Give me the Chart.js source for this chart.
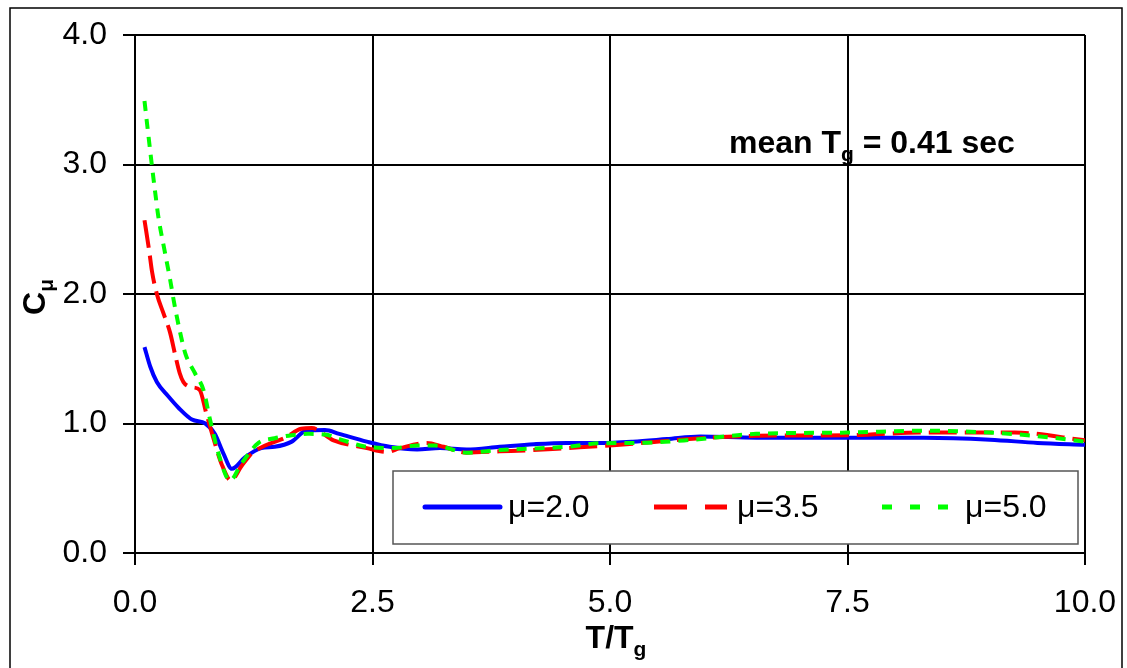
<!DOCTYPE html>
<html>
<head>
<meta charset="utf-8">
<script src="https://cdn.jsdelivr.net/npm/chart.js@4.4.0/dist/chart.umd.min.js"></script>
<style>
  html, body { margin: 0; padding: 0; background: #fff; }
  #wrap { width: 1127px; height: 668px; position: relative; }
</style>
</head>
<body>
<div id="wrap"><canvas id="myChart" width="1127" height="668"></canvas></div>
<script>
// values (T/Tg vs C_mu)
const t_mu20 = [0.10, 0.16, 0.23, 0.35, 0.46, 0.60, 0.74, 0.84, 0.93, 1.02, 1.16, 1.33, 1.47, 1.65, 1.79, 2.00, 2.15, 2.44, 2.68, 2.97, 3.21, 3.49, 3.84, 4.20, 4.54, 4.89, 5.24, 5.60, 5.95, 6.54, 7.00, 7.50, 8.30, 9.00, 9.50, 10.0];
const c_mu20 = [1.59, 1.44, 1.32, 1.21, 1.12, 1.03, 1.00, 0.92, 0.77, 0.65, 0.74, 0.81, 0.82, 0.86, 0.94, 0.95, 0.92, 0.86, 0.82, 0.80, 0.81, 0.80, 0.82, 0.84, 0.85, 0.85, 0.86, 0.88, 0.90, 0.89, 0.89, 0.89, 0.89, 0.875, 0.85, 0.835];

const t_mu35 = [0.10, 0.15, 0.18, 0.23, 0.30, 0.37, 0.42, 0.47, 0.51, 0.60, 0.68, 0.75, 0.82, 0.91, 1.01, 1.12, 1.23, 1.37, 1.58, 1.75, 1.86, 2.09, 2.44, 2.65, 2.79, 3.07, 3.25, 3.49, 3.84, 4.19, 4.54, 5.07, 5.95, 6.54, 7.50, 8.30, 9.26, 10.0];
const c_mu35 = [2.57, 2.33, 2.17, 2.00, 1.85, 1.70, 1.54, 1.39, 1.32, 1.28, 1.26, 1.08, 0.90, 0.69, 0.56, 0.67, 0.77, 0.83, 0.89, 0.96, 0.965, 0.87, 0.81, 0.78, 0.81, 0.85, 0.82, 0.775, 0.785, 0.795, 0.81, 0.834, 0.886, 0.905, 0.91, 0.93, 0.93, 0.87];

const t_mu50 = [0.10, 0.175, 0.21, 0.245, 0.31, 0.37, 0.41, 0.47, 0.53, 0.63, 0.72, 0.79, 0.89, 1.00, 1.12, 1.30, 1.47, 1.65, 1.82, 2.00, 2.15, 2.44, 2.72, 2.97, 3.16, 3.49, 3.84, 4.54, 4.89, 5.30, 5.84, 6.54, 7.49, 8.30, 9.00, 9.53, 10.0];
const c_mu50 = [3.49, 3.01, 2.80, 2.60, 2.34, 2.11, 1.94, 1.72, 1.54, 1.39, 1.26, 1.03, 0.74, 0.56, 0.69, 0.85, 0.886, 0.91, 0.92, 0.915, 0.88, 0.82, 0.81, 0.83, 0.83, 0.775, 0.795, 0.82, 0.847, 0.85, 0.873, 0.92, 0.93, 0.944, 0.93, 0.90, 0.86];

const series_labels = ['μ=2.0', 'μ=3.5', 'μ=5.0'];
const x_ticks = [0, 2.5, 5, 7.5, 10];
const y_ticks = [0, 1, 2, 3, 4];

const FONT = '"Liberation Sans", Arial, sans-serif';

const toPoints = (ts, cs) => ts.map((t, i) => ({ x: t, y: cs[i] }));

// frame, titles, annotation and legend drawn on the canvas
const extras = {
    id: 'extras',
    beforeDraw(chart) {
        const ctx = chart.ctx;
        ctx.save();
        ctx.fillStyle = '#fff';
        ctx.fillRect(0, 0, chart.width, chart.height);
        ctx.strokeStyle = '#000';
        ctx.lineWidth = 1.5;
        ctx.beginPath();
        ctx.moveTo(10, 700);
        ctx.lineTo(10, 8);
        ctx.lineTo(1122, 8);
        ctx.lineTo(1122, 700);
        ctx.stroke();
        ctx.restore();
    },
    afterDraw(chart) {
        const ctx = chart.ctx;
        ctx.save();
        ctx.fillStyle = '#000';
        ctx.textBaseline = 'alphabetic';
        ctx.textAlign = 'left';

        // x title T/Tg
        ctx.font = 'bold 32px ' + FONT;
        const w1 = ctx.measureText('T/T').width;
        ctx.font = 'bold 21px ' + FONT;
        const w2 = ctx.measureText('g').width;
        let x0 = 616 - (w1 + w2) / 2;
        ctx.font = 'bold 32px ' + FONT;
        ctx.fillText('T/T', x0, 648);
        ctx.font = 'bold 21px ' + FONT;
        ctx.fillText('g', x0 + w1, 656);

        // y title C_mu
        ctx.save();
        ctx.translate(45, 297);
        ctx.rotate(-Math.PI / 2);
        ctx.font = 'bold 32px ' + FONT;
        const c1 = ctx.measureText('C').width;
        ctx.font = 'bold 21px ' + FONT;
        const c2 = ctx.measureText('μ').width;
        const s = -(c1 + c2) / 2;
        ctx.font = 'bold 32px ' + FONT;
        ctx.fillText('C', s, 0);
        ctx.font = 'bold 21px ' + FONT;
        ctx.fillText('μ', s + c1, 8);
        ctx.restore();

        // annotation
        ctx.font = 'bold 32px ' + FONT;
        ctx.fillText('mean T', 729, 153);
        const a1 = ctx.measureText('mean T').width;
        ctx.font = 'bold 21px ' + FONT;
        ctx.fillText('g', 729 + a1, 161);
        const a2 = ctx.measureText('g').width;
        ctx.font = 'bold 32px ' + FONT;
        ctx.fillText(' = 0.41 sec', 729 + a1 + a2, 153);

        // legend box
        ctx.fillStyle = '#fff';
        ctx.fillRect(393, 471, 685, 73);
        ctx.strokeStyle = '#555';
        ctx.lineWidth = 1.5;
        ctx.strokeRect(393, 471, 685, 73);

        const items = [
            { x: 425, len: 75, tx: 508, dash: [] },
            { x: 654, len: 73, tx: 737, dash: [33, 18] },
            { x: 882, len: 66, tx: 965, dash: [10, 18] }
        ];
        chart.data.datasets.forEach((ds, i) => {
            const it = items[i];
            ctx.strokeStyle = ds.borderColor;
            ctx.lineWidth = 5;
            ctx.lineCap = i === 0 ? 'round' : 'butt';
            ctx.setLineDash(it.dash);
            ctx.beginPath();
            ctx.moveTo(it.x, 507);
            ctx.lineTo(it.x + it.len, 507);
            ctx.stroke();
            ctx.setLineDash([]);
            ctx.fillStyle = '#000';
            ctx.font = '32px ' + FONT;
            ctx.textBaseline = 'middle';
            ctx.fillText(ds.label, it.tx, 508);
        });
        ctx.restore();
    }
};

const makeDataset = (label, ts, cs, color, dash, order) => ({
    label,
    data: toPoints(ts, cs),
    borderColor: color,
    backgroundColor: color,
    borderWidth: 4,
    borderDash: dash,
    pointRadius: 0,
    fill: false,
    cubicInterpolationMode: 'monotone',
    order
});

const config = {
    type: 'line',
    data: {
        datasets: [
            makeDataset(series_labels[0], t_mu20, c_mu20, '#0000ff', [], 2),
            makeDataset(series_labels[1], t_mu35, c_mu35, '#ff0000', [28, 8], 1),
            makeDataset(series_labels[2], t_mu50, c_mu50, '#00ff00', [10, 8], 0)
        ]
    },
    options: {
        responsive: false,
        animation: false,
        layout: { padding: { left: 0, top: 35, right: 42, bottom: 0 } },
        plugins: {
            legend: { display: false },
            tooltip: { enabled: false }
        },
        scales: {
            x: {
                type: 'linear',
                min: 0,
                max: 10,
                afterFit: (scale) => {
                    scale.height = 115;
                    scale.paddingLeft = 0;
                    scale.paddingRight = 0;
                },
                afterBuildTicks: (scale) => { scale.ticks = x_ticks.map(v => ({ value: v })); },
                ticks: {
                    color: '#000',
                    font: { family: FONT, size: 32 },
                    padding: 19,
                    maxRotation: 0,
                    callback: (v) => Number(v).toFixed(1)
                },
                grid: { color: '#000', lineWidth: 2, tickLength: 12 },
                border: { color: '#000', width: 2 }
            },
            y: {
                type: 'linear',
                min: 0,
                max: 4,
                afterFit: (scale) => {
                    scale.width = 135;
                    scale.paddingTop = 0;
                    scale.paddingBottom = 0;
                },
                afterBuildTicks: (scale) => { scale.ticks = y_ticks.map(v => ({ value: v })); },
                ticks: {
                    color: '#000',
                    font: { family: FONT, size: 32 },
                    padding: 16,
                    callback: (v) => Number(v).toFixed(1)
                },
                grid: { color: '#000', lineWidth: 2, tickLength: 12 },
                border: { color: '#000', width: 2 }
            }
        }
    },
    plugins: [extras]
};

const myChart = document.getElementById('myChart');
new Chart(myChart, config);
</script>
</body>
</html>
